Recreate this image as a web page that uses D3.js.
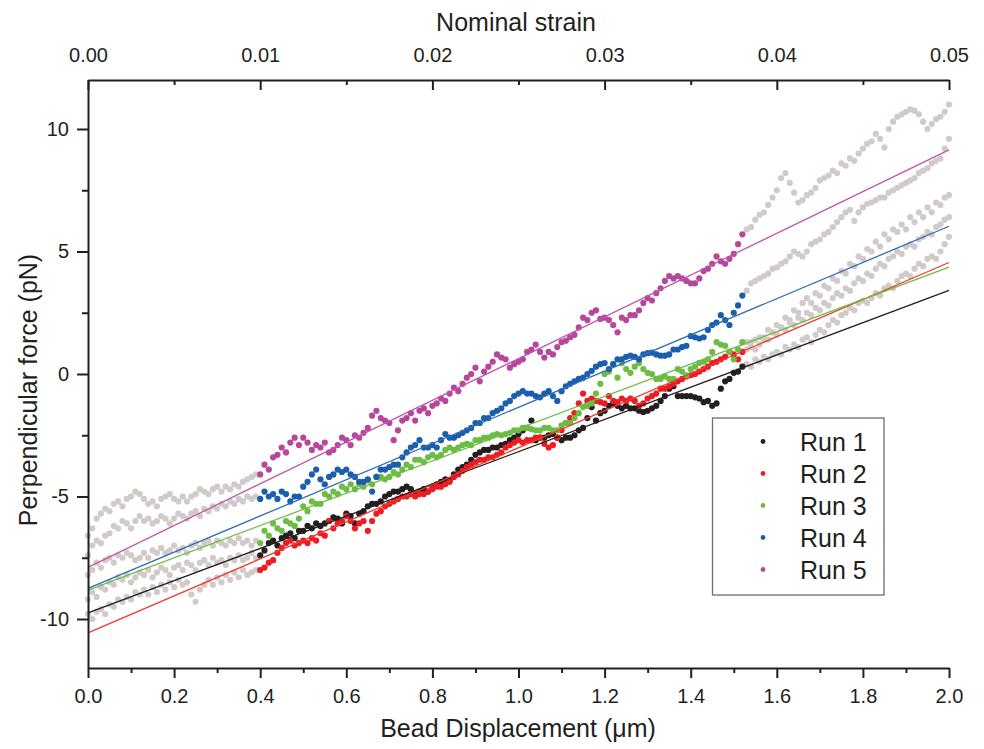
<!DOCTYPE html>
<html><head><meta charset="utf-8">
<script src="https://cdn.jsdelivr.net/npm/d3@7/dist/d3.min.js"></script>
<style>
body{margin:0;background:#fff}
text{font-family:"Liberation Sans",Arial,Helvetica,sans-serif;fill:#231f20}
</style>
</head><body>
<svg id="chart" width="984" height="749"></svg>
<script>
// ---------------- data ----------------
// Each run is sampled on a regular grid: x = xStart + i * xStep (µm), 0.00 … 2.00
const xStart = 0.0, xStep = 0.01;
// portion of each run used for the linear fit (drawn in colour)
const fitFrom = 0.40, fitTo = 1.52;

const runNames  = ["Run 1", "Run 2", "Run 3", "Run 4", "Run 5"];
const runColors = ["#231f20", "#ec1c24", "#6dbd45", "#1b5eab", "#b5479c"];
const lineColors = ["#231f20", "#ef3b2c", "#6dbd45", "#2f6db6", "#c055a8"];
const grayColor = "#d2cac8";

// fitted lines  F = intercept + slope * x
const fitIntercepts = [-9.75, -10.57, -8.82, -8.75, -7.89];
const fitSlopes     = [ 6.58,   7.56,  6.59,  7.39,  8.52];

// Run 1 (pN)
const run1 = [
 -9.2,-8.9,-9.1,-8.7,-8.8,-8.5,-8.6,-8.3,-8.4,-8.2, -8.5,-8.3,-8.1,-8.2,-8.0,-8.3,-8.1,-7.9,-8.0,-8.2,
 -7.9,-7.8,-8.0,-7.7,-7.8,-8.0,-7.7,-7.6,-7.8,-7.5, -7.7,-7.6,-7.8,-7.5,-7.6,-7.4,-7.6,-7.5,-7.3,-7.5,
 -7.4,-7.2,-6.9,-6.8,-7.0,-6.7,-6.6,-6.5,-6.7,-6.4, -6.4,-6.2,-6.3,-6.1,-6.2,-6.1,-6.0,-5.85,-5.9,-6.1,
 -5.7,-5.8,-6.1,-5.7,-5.6,-5.4,-5.3,-5.3,-5.2,-5.0, -4.9,-4.8,-4.8,-4.7,-4.6,-4.7,-4.9,-4.8,-4.7,-4.8,
 -4.6,-4.5,-4.4,-4.3,-4.35,-4.1,-3.9,-3.8,-3.7,-3.5, -3.3,-3.2,-3.1,-3.1,-3.0,-3.0,-2.9,-2.85,-2.7,-2.6,
 -2.45,-2.3,-2.2,-1.9,-2.7,-2.6,-2.6,-2.5,-2.45,-2.6, -2.7,-2.6,-2.6,-2.5,-2.3,-2.2,-1.8,-1.35,-1.9,-1.6,
 -1.5,-1.3,-1.2,-1.3,-1.4,-1.3,-1.4,-1.4,-1.5,-1.55, -1.5,-1.4,-1.3,-1.1,-0.9,-0.6,-0.5,-0.9,-0.9,-0.9,
 -0.9,-0.95,-1.0,-1.15,-1.1,-1.3,-1.2,-0.6,-0.3,-0.2, 0.05,0.1,0.3,
 0.4,0.3,0.6,0.5,0.7,0.6,0.8,0.9,0.8,1.1, 1.0,1.2,1.1,1.4,1.5,1.3,1.6,1.8,1.7,2.0,
 2.2,2.1,2.4,2.5,2.7,2.6,2.9,3.0,2.9,3.1, 3.3,3.2,3.5,3.6,3.5,3.8,4.0,4.1,4.0,4.3,
 4.5,4.4,4.7,4.8,4.7,5.0,5.3,5.6
];
// Run 2 (pN)
const run2 = [
 -9.8,-10.0,-9.7,-9.6,-9.8,-9.4,-9.5,-9.2,-9.3,-9.1, -9.2,-8.9,-9.0,-8.8,-9.0,-8.7,-8.9,-8.6,-8.8,-8.5,
 -8.7,-8.4,-8.6,-8.5,-9.0,-9.3,-8.8,-8.6,-8.4,-8.6, -8.3,-8.5,-8.2,-8.4,-8.1,-8.3,-8.0,-8.2,-8.1,-8.0,
 -8.0,-7.9,-7.7,-7.6,-7.3,-7.1,-6.9,-6.8,-7.0,-6.9, -6.8,-6.9,-6.7,-6.8,-6.5,-6.6,-6.0,-6.3,-6.1,-6.0,
 -5.8,-6.0,-6.3,-6.1,-6.0,-6.4,-6.0,-5.7,-5.6,-5.4, -5.3,-5.2,-5.1,-5.0,-5.0,-4.9,-5.0,-4.9,-4.9,-4.8,
 -4.7,-4.6,-4.6,-4.5,-4.4,-4.2,-4.1,-3.95,-3.8,-3.7, -3.6,-3.5,-3.5,-3.4,-3.4,-3.3,-3.2,-3.0,-2.9,-2.8,
 -2.7,-2.8,-2.7,-2.7,-2.6,-2.6,-2.85,-3.0,-2.9,-2.6, -2.3,-2.0,-1.8,-1.6,-1.2,-0.8,-1.1,-1.0,-1.1,-1.15,
 -1.2,-0.9,-1.1,-1.15,-1.0,-1.1,-1.0,-1.1,-1.3,-1.2, -1.0,-0.9,-0.8,-0.6,-0.6,-0.5,-0.4,-0.3,-0.2,-0.1,
 -0.05,0.0,0.1,0.2,0.3,0.45,0.5,0.6,0.7,0.9, 0.8,0.6,0.9,
 1.0,1.3,1.0,1.5,1.4,1.8,1.7,2.0,1.9,2.3, 2.2,2.6,2.5,2.9,3.1,2.9,3.3,3.2,3.6,3.5,
 3.9,3.8,4.2,4.1,4.5,4.4,4.8,4.7,5.1,5.0, 5.4,5.2,5.7,5.5,5.9,5.8,6.1,5.9,6.4,6.2,
 6.6,6.4,6.8,6.6,7.0,6.9,7.2,7.3
];
// Run 3 (pN)
const run3 = [
 -8.2,-8.0,-7.7,-7.9,-7.6,-7.5,-7.7,-7.4,-7.5,-7.3, -7.4,-7.6,-7.5,-7.3,-7.5,-7.2,-7.3,-7.1,-7.3,-7.2,
 -7.0,-7.2,-7.1,-7.3,-7.0,-6.9,-7.1,-6.9,-6.8,-7.0, -6.8,-6.9,-7.0,-6.8,-6.9,-6.7,-6.9,-6.8,-7.0,-6.8,
 -6.9,-6.4,-6.6,-6.1,-6.3,-6.4,-6.0,-6.1,-6.2,-5.9, -5.4,-5.6,-5.2,-5.3,-5.3,-4.9,-5.0,-4.8,-4.9,-4.6,
 -4.7,-4.5,-4.7,-4.5,-4.6,-4.35,-4.5,-4.2,-4.2,-4.3, -4.2,-4.0,-4.1,-3.9,-3.7,-3.8,-3.5,-3.5,-3.6,-3.4,
 -3.3,-3.4,-3.3,-3.1,-3.0,-3.1,-3.0,-2.9,-2.85,-2.9, -2.7,-2.7,-2.6,-2.6,-2.5,-2.45,-2.5,-2.45,-2.4,-2.3,
 -2.3,-2.2,-2.2,-2.25,-2.3,-2.3,-2.2,-2.2,-2.3,-2.3, -2.1,-2.0,-2.0,-1.8,-1.6,-1.35,-1.3,-1.2,-0.8,-0.4,
 0.0,0.1,0.4,-0.15,0.45,0.2,0.05,0.3,0.45,0.2, 0.05,0.0,-0.2,-0.2,-0.1,-0.2,-0.2,0.2,0.1,-0.05,
 0.2,0.3,0.45,0.5,0.6,0.9,1.3,1.2,1.15,0.9, 0.6,1.0,1.3,
 1.3,1.1,1.4,1.2,1.5,1.4,1.7,1.6,1.9,1.8, 2.1,2.0,2.3,2.2,2.5,2.4,2.7,2.6,2.9,2.8,
 3.1,3.3,3.2,3.5,3.4,3.7,3.9,3.8,4.1,4.0, 4.3,4.5,4.4,4.7,4.8,5.0,4.9,5.2,5.3,5.2,
 5.5,5.6,5.8,5.7,6.0,6.1,6.3,6.4
];
// Run 4 (pN)
const run4 = [
 -7.4,-7.0,-6.8,-6.9,-6.6,-6.5,-6.2,-6.3,-6.0,-6.1, -6.3,-6.0,-5.8,-6.0,-5.9,-6.1,-6.0,-5.8,-5.9,-6.1,
 -5.9,-5.7,-5.8,-5.9,-5.7,-5.6,-5.8,-5.5,-5.6,-5.4, -5.5,-5.3,-5.4,-5.2,-5.3,-5.1,-5.2,-5.0,-5.1,-5.0,
 -5.1,-4.8,-5.0,-4.9,-5.1,-4.8,-4.9,-5.2,-5.0,-5.0, -4.6,-4.4,-4.1,-3.9,-4.3,-4.5,-4.2,-4.1,-3.9,-4.0,
 -3.9,-4.1,-4.2,-4.4,-4.4,-4.3,-4.8,-4.2,-3.9,-3.9, -3.8,-3.7,-3.7,-3.4,-3.2,-3.0,-2.9,-2.7,-3.0,-3.0,
 -2.9,-3.0,-2.7,-2.45,-2.6,-2.6,-2.5,-2.4,-2.3,-2.2, -2.0,-2.0,-1.8,-1.8,-1.6,-1.5,-1.4,-1.2,-1.1,-0.9,
 -0.8,-0.7,-0.8,-0.8,-0.9,-0.95,-0.8,-0.7,-0.9,-1.1, -0.7,-0.5,-0.4,-0.3,-0.2,-0.15,0.0,0.13,0.3,0.4,
 0.45,0.2,0.4,0.6,0.6,0.7,0.75,0.7,0.6,0.8, 0.85,0.87,0.8,0.75,0.75,0.8,1.0,1.0,1.1,1.15,
 1.55,1.5,1.45,1.5,1.8,2.0,2.1,2.4,2.2,2.0, 2.5,2.8,3.2,
 3.4,3.7,3.8,3.9,4.0,4.1,4.3,4.35,4.5,4.6, 4.8,5.0,4.9,4.8,5.0,5.3,5.4,5.5,5.7,5.8,
 6.0,6.2,6.4,6.6,6.7,6.25,6.6,6.8,6.95,7.0, 7.1,7.2,7.2,7.4,7.5,7.6,7.7,7.8,7.9,8.0,
 8.2,8.3,8.4,8.6,8.7,8.8,9.2,9.6
];
// Run 5 (pN)
const run5 = [
 -6.6,-6.3,-5.9,-5.7,-5.5,-5.6,-5.3,-5.2,-5.4,-5.1, -5.0,-4.8,-4.9,-5.1,-5.3,-5.2,-5.4,-5.1,-5.0,-4.9,
 -5.1,-5.2,-5.0,-5.2,-5.0,-4.9,-4.7,-4.8,-4.9,-4.7, -4.6,-4.8,-4.6,-4.7,-4.5,-4.6,-4.4,-4.3,-4.2,-4.1,
 -4.1,-3.7,-3.9,-3.4,-3.3,-3.0,-3.2,-2.8,-2.6,-2.9, -2.6,-2.8,-3.1,-2.9,-3.0,-2.8,-3.2,-3.1,-2.9,-2.6,
 -2.7,-2.9,-2.5,-2.6,-2.4,-2.2,-1.7,-1.5,-1.8,-1.9, -2.0,-2.7,-2.3,-1.9,-1.8,-1.6,-1.9,-1.5,-1.4,-1.6,
 -1.3,-1.2,-1.0,-1.1,-0.8,-0.55,-0.7,-0.4,-0.15,0.0, 0.26,-0.3,0.1,0.3,0.5,0.8,0.67,0.6,0.26,0.4,
 0.5,0.6,0.9,1.0,1.2,0.9,0.67,0.9,0.8,1.1, 1.3,1.36,1.5,1.6,1.9,2.3,2.2,2.5,2.6,2.25,
 2.3,2.2,2.0,1.7,2.3,2.2,2.4,2.4,2.6,2.9, 3.1,3.0,3.3,3.5,3.8,4.0,3.9,4.0,3.9,3.8,
 3.7,3.7,3.9,4.2,4.3,4.5,4.8,4.6,4.5,4.7, 4.9,5.3,5.7,
 5.9,6.0,6.3,6.5,6.6,6.9,7.2,7.5,8.0,8.2, 7.8,7.4,7.0,7.1,7.3,7.4,7.6,7.9,8.0,8.1,
 8.3,8.2,8.6,8.5,8.8,8.7,9.0,9.2,9.4,9.5, 9.8,9.6,9.25,10.0,10.3,10.5,10.6,10.7,10.8,10.75,
 10.6,10.3,10.0,10.2,10.4,10.5,10.7,11.0
];
const runs = [run1, run2, run3, run4, run5];

// axes
const xDomain = [0, 2], yDomain = [-12, 12], strainDomain = [0, 0.05];
const xMajorTicks = [0, 0.2, 0.4, 0.6, 0.8, 1.0, 1.2, 1.4, 1.6, 1.8, 2.0];
const xMinorTicks = [0.1, 0.3, 0.5, 0.7, 0.9, 1.1, 1.3, 1.5, 1.7, 1.9];
const yMajorTicks = [-10, -5, 0, 5, 10];
const yMinorTicks = [-7.5, -2.5, 2.5, 7.5];
const strainMajorTicks = [0, 0.01, 0.02, 0.03, 0.04, 0.05];
const strainMinorTicks = [0.005, 0.015, 0.025, 0.035, 0.045];

// ---------------- drawing ----------------
const svg = d3.select("#chart");
svg.append("rect").attr("width", 984).attr("height", 749).attr("fill", "#fff");

const L = 88, R = 949, T = 80, B = 668;
const x = d3.scaleLinear().domain(xDomain).range([L, R]);
const y = d3.scaleLinear().domain(yDomain).range([B, T]);
const xs = d3.scaleLinear().domain(strainDomain).range([L, R]);

const pts = [];
runs.forEach((arr, ri) => {
  arr.forEach((v, i) => {
    const xv = +(xStart + i * xStep).toFixed(4);
    pts.push({run: ri, x: xv, y: v, fit: xv >= fitFrom - 1e-9 && xv <= fitTo + 1e-9});
  });
});

const dotR = 3.1;
const gData = svg.append("g");
gData.selectAll("circle.gray").data(pts.filter(d => !d.fit)).join("circle")
  .attr("class", "gray")
  .attr("cx", d => x(d.x)).attr("cy", d => y(d.y)).attr("r", dotR)
  .attr("fill", grayColor);

gData.selectAll("circle.col").data(pts.filter(d => d.fit)).join("circle")
  .attr("class", "col")
  .attr("cx", d => x(d.x)).attr("cy", d => y(d.y)).attr("r", dotR)
  .attr("fill", d => runColors[d.run]);

// fit lines
const line = d3.line().x(d => x(d[0])).y(d => y(d[1]));
fitIntercepts.forEach((b, i) => {
  const m = fitSlopes[i];
  svg.append("path")
    .attr("d", line(xDomain.map(xv => [xv, b + m * xv])))
    .attr("stroke", lineColors[i]).attr("stroke-width", 1.3).attr("fill", "none");
});

// axes
function styleAxis(g) {
  g.selectAll(".domain").attr("stroke", "#231f20").attr("stroke-width", 2);
  g.selectAll(".tick line").attr("stroke", "#231f20").attr("stroke-width", 2);
  g.selectAll(".tick text").attr("font-size", 20).attr("fill", "#231f20")
    .attr("font-family", '"Liberation Sans", Arial, sans-serif');
}
const gx = svg.append("g").attr("transform", `translate(0,${B})`)
  .call(d3.axisBottom(x).tickValues(xMajorTicks).tickFormat(d3.format(".1f"))
    .tickSizeInner(10).tickSizeOuter(0).tickPadding(11));
styleAxis(gx);
const gxm = svg.append("g").attr("transform", `translate(0,${B})`)
  .call(d3.axisBottom(x).tickValues(xMinorTicks).tickFormat("").tickSize(5));
gxm.select(".domain").remove(); styleAxis(gxm);

const gy = svg.append("g").attr("transform", `translate(${L},0)`)
  .call(d3.axisLeft(y).tickValues(yMajorTicks).tickFormat(d => String(d))
    .tickSizeInner(11).tickSizeOuter(0).tickPadding(8));
styleAxis(gy);
const gym = svg.append("g").attr("transform", `translate(${L},0)`)
  .call(d3.axisLeft(y).tickValues(yMinorTicks).tickFormat("").tickSize(6));
gym.select(".domain").remove(); styleAxis(gym);

const gt = svg.append("g").attr("transform", `translate(0,${T})`)
  .call(d3.axisTop(xs).tickValues(strainMajorTicks).tickFormat(d3.format(".2f"))
    .tickSizeInner(-10).tickSizeOuter(0).tickPadding(18));
styleAxis(gt);
const gtm = svg.append("g").attr("transform", `translate(0,${T})`)
  .call(d3.axisTop(xs).tickValues(strainMinorTicks).tickFormat("").tickSize(-5));
gtm.select(".domain").remove(); styleAxis(gtm);

// titles
svg.append("text").attr("x", 516).attr("y", 31).attr("text-anchor", "middle")
  .attr("font-size", 25).text("Nominal strain");
svg.append("text").attr("x", 518).attr("y", 737).attr("text-anchor", "middle")
  .attr("font-size", 25).text("Bead Displacement (\u03bcm)");
svg.append("text").attr("transform", "translate(37,390) rotate(-90)")
  .attr("text-anchor", "middle").attr("font-size", 25).text("Perpendicular force (pN)");

// legend
const lg = svg.append("g");
lg.append("rect").attr("x", 712.5).attr("y", 418).attr("width", 171.5).attr("height", 177)
  .attr("fill", "#fff").attr("stroke", "#6d6e71").attr("stroke-width", 1.3);
runNames.forEach((n, i) => {
  lg.append("circle").attr("cx", 763).attr("cy", 441.5 + 32 * i).attr("r", 2.4)
    .attr("fill", runColors[i]);
  lg.append("text").attr("x", 800).attr("y", 450.5 + 32 * i)
    .attr("font-size", 25).text(n);
});
</script>
</body></html>
